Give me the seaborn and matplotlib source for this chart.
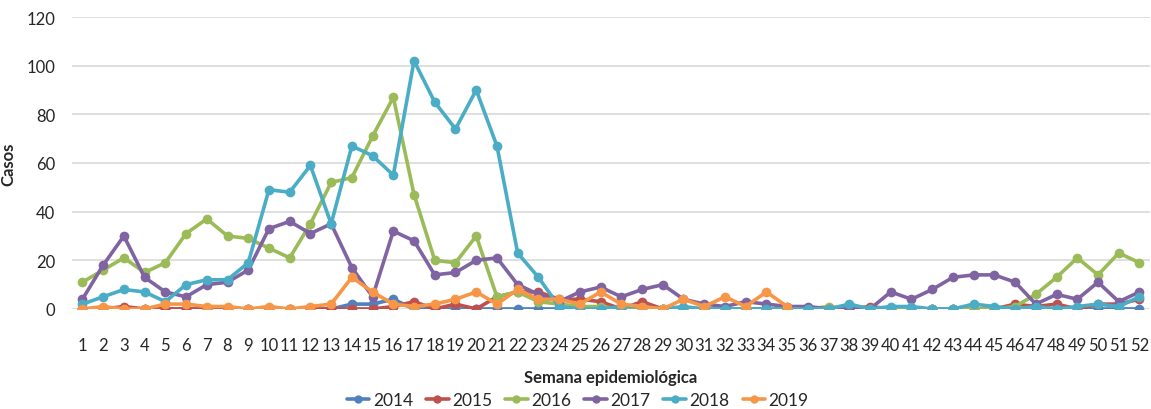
import numpy as np
import pandas as pd
import matplotlib.pyplot as plt
import seaborn as sns

plt.switch_backend('Agg')

semanas = list(range(1, 53))

casos_2014 = [0, 0, 0, 0, 0, 0, 0, 0, 0, 0, 0, 0, 0, 2, 2, 4, 0, 0, 0, 0,
              0, 0, 0, 0, 0, 0, 0, 0, 0, 0, 0, 0, 0, 0, 0, 0, 0, 0, 0, 0,
              0, 0, 0, 0, 0, 0, 0, 0, 0, 0, 0, 0]
casos_2015 = [0, 0, 1, 0, 0, 0, 0, 0, 0, 0, 0, 0, 0, 0, 0, 1, 3, 0, 2, 0,
              5, 7, 7, 4, 4, 3, 0, 3, 0, 0, 0, 0, 0, 0, 0, 0, 0, 0, 1, 0,
              0, 0, 0, 0, 0, 2, 1, 2, 0, 2, 2, 4]
casos_2016 = [11, 16, 21, 15, 19, 31, 37, 30, 29, 25, 21, 35, 52, 54, 71, 87, 47, 20, 19, 30,
              5, 7, 3, 2, 1, 1, 0, 0, 0, 0, 0, 0, 0, 0, 0, 0, 1, 0, 0, 0,
              0, 0, 0, 0, 0, 1, 6, 13, 21, 14, 23, 19]
casos_2017 = [4, 18, 30, 13, 7, 5, 10, 11, 16, 33, 36, 31, 35, 17, 5, 32, 28, 14, 15, 20,
              21, 10, 6, 3, 7, 9, 5, 8, 10, 4, 2, 1, 3, 2, 1, 1, 0, 0, 0, 7,
              4, 8, 13, 14, 14, 11, 2, 6, 4, 11, 3, 7]
casos_2018 = [2, 5, 8, 7, 3, 10, 12, 12, 19, 49, 48, 59, 35, 67, 63, 55, 102, 85, 74, 90,
              67, 23, 13, 1, 0, 0, 1, 1, 0, 1, 0, 0, 0, 0, 0, 0, 0, 2, 0, 1,
              1, 0, 0, 2, 1, 0, 1, 0, 1, 2, 1, 5]
casos_2019 = [0, 1, 0, 0, 2, 2, 1, 1, 0, 1, 0, 1, 2, 13, 7, 2, 1, 2, 4, 7,
              2, 8, 4, 4, 2, 7, 2, 1, 0, 4, 1, 5, 1, 7, 1] + [np.nan] * 17

anios = ['2014', '2015', '2016', '2017', '2018', '2019']
colores = ['#4F81BD', '#C0504D', '#9BBB59', '#8064A2', '#4BACC6', '#F79646']

series = [casos_2014, casos_2015, casos_2016, casos_2017, casos_2018, casos_2019]
df = pd.concat([pd.DataFrame({'semana': semanas, 'casos': s, 'anio': a})
                for a, s in zip(anios, series)], ignore_index=True)

sns.set_theme(style='white')
plt.rcParams['font.family'] = ['Lato', 'DejaVu Sans']

fig, ax = plt.subplots(figsize=(11.51, 4.10), dpi=100)
fig.subplots_adjust(left=0.0626, right=0.999, top=0.956, bottom=0.244)

sns.lineplot(data=df, x='semana', y='casos', hue='anio', hue_order=anios,
             palette=colores, marker='o', markersize=7, markeredgewidth=0,
             linewidth=2.6, ax=ax, legend=False)

ax.set_xlim(0.5, 52.5)
ax.set_ylim(0, 120)
ax.set_xticks(semanas)
ax.set_yticks(range(0, 121, 20))
ax.yaxis.grid(True, color='#D9D9D9', linewidth=1.2)
ax.set_axisbelow(True)
for sp in ax.spines.values():
    sp.set_visible(False)
ax.tick_params(axis='x', length=0, pad=20, labelsize=12, colors='#262626')
ax.tick_params(axis='y', length=0, pad=12, labelsize=12, colors='#262626')

ax.set_xlabel('Semana epidemiológica', fontsize=12, fontweight='bold', labelpad=12)
ax.set_ylabel('Casos', fontsize=12, fontweight='bold')
ax.yaxis.set_label_coords(-0.052, 0.5)

handles = [plt.Line2D([], [], color=c, marker='o', markersize=6, linewidth=2.6,
                      markeredgewidth=0) for c in colores]
fig.legend(handles, anios, loc='center', bbox_to_anchor=(0.502, 0.022), ncol=6,
           frameon=False, fontsize=12.5, handlelength=1.3, handletextpad=0.2,
           columnspacing=0.75)

fig.savefig('out.png', dpi=100)
plt.close(fig)
